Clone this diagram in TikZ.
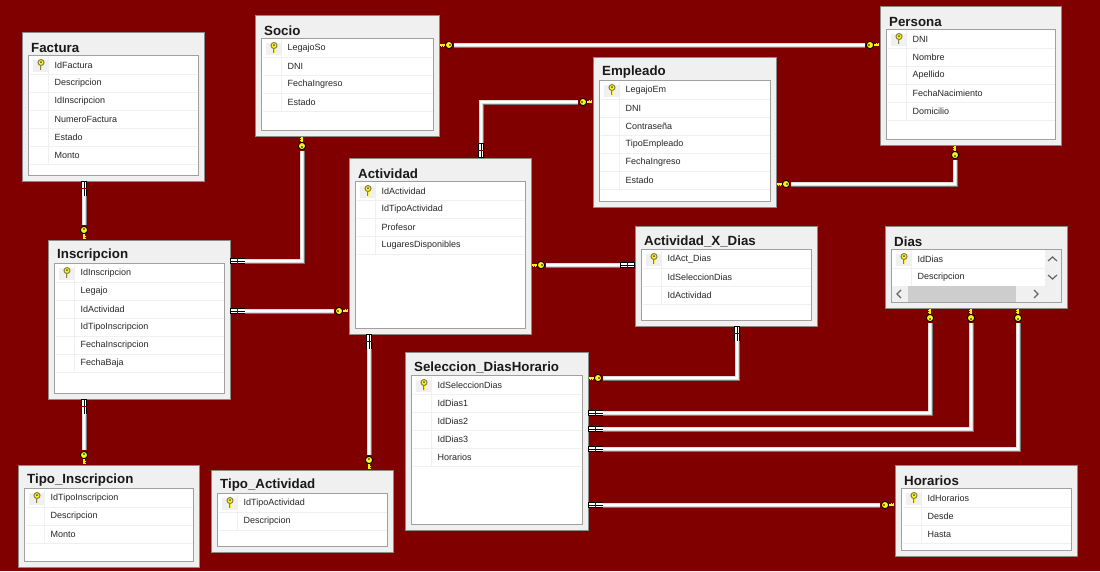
\documentclass[tikz,border=0pt]{standalone}
\usepackage{fontspec}
\setmainfont{Liberation Sans}
\usetikzlibrary{positioning}

\definecolor{diagrambg}{HTML}{800000}
\definecolor{boxgray}{HTML}{F0F0F0}
\definecolor{edgegray}{HTML}{8A8A8A}
\definecolor{framegray}{HTML}{A0A0A0}
\definecolor{tubegray}{HTML}{787878}
\definecolor{tubelight}{HTML}{DCDCDC}
\definecolor{rowgray}{HTML}{F0F0F0}
\definecolor{keyyellow}{HTML}{FFF21A}
\definecolor{thumbgray}{HTML}{CDCDCD}

\tikzset{
  tablebox/.style={draw=edgegray,fill=boxgray,line width=1pt,inner sep=0pt,outer sep=0pt,anchor=north west},
  gridbox/.style={draw=framegray,fill=white,line width=1pt,inner sep=0pt,outer sep=0pt,anchor=north west},
  tabletitle/.style={anchor=west,inner sep=0pt,font=\fontsize{13.3}{14}\selectfont\bfseries,text=black!90},
  fieldtext/.style={anchor=west,inner sep=0pt,font=\fontsize{9}{10}\selectfont,text=black!85},
  rowline/.style={draw=rowgray,line width=1pt},
  relation/.style={draw=white,line width=1.6pt,shorten <=15pt,shorten >=15pt,
    preaction={draw=tubegray,line width=5pt},
    preaction={draw=tubelight,line width=3.4pt}},
  chevron/.style={draw=black!60,line width=1.2pt},
  keyend/.pic={
    \draw[keyyellow,line width=1.4pt] (1,0) -- (8,0);
    \draw[keyyellow,line width=1pt] (2,0) -- (2,2.4) (4,0) -- (4,2.4);
    \filldraw[draw=black,fill=keyyellow,line width=0.9pt] (10,0) circle (3.6pt);
    \fill[black] (11,0) circle (0.9pt);
  },
  barend/.pic={
    \fill[black] (0.3,-3.2) rectangle (7.4,3.2);
    \fill[black] (7.8,-3.2) rectangle (15,3.2);
    \fill[white] (1,-2.4) rectangle (7,-0.5);
    \fill[white] (1,0.5) rectangle (7,2.4);
    \fill[white] (8.3,-2.4) rectangle (14.5,-0.5);
    \fill[white] (8.3,0.5) rectangle (14.5,2.4);
  },
  keyicon/.pic={
    \draw[black!55!yellow,line width=2.4pt] (0,0) -- (0,7);
    \draw[keyyellow,line width=1pt] (0,0) -- (0,7);
    \filldraw[draw=black!55!yellow,fill=keyyellow,line width=1pt] (0,0) circle (3pt);
    \fill[black!70] (0,-0.4) circle (1pt);
  }
}

%table: name, title, x0, y0, x1, y1, fields
\newcommand{\dbtable}[7]{
  \node[tablebox,minimum width={(#5-#3)*1pt},minimum height={(#6-#4)*1pt}] (#1) at (#3,#4) {};
  \node[tabletitle] (#1-title) at ([xshift=9pt,yshift=-15.5pt]#1.north west) {#2};
  \node[gridbox,minimum width={(#5-#3-12)*1pt},minimum height={(#6-#4-29.5)*1pt}] (#1-grid) at ([xshift=6.5pt,yshift=-23.5pt]#1.north west) {};
  \foreach \fieldname [count=\rownum] in {#7}{
    \node[fieldtext] (#1-field-\rownum) at ([xshift=26pt,yshift={(-10-18*(\rownum-1))*1pt}]#1-grid.north west) {\fieldname};
    \draw[rowline] ([xshift=1pt,yshift={(-19-18*(\rownum-1))*1pt}]#1-grid.north west) -- ([xshift=-1pt,yshift={(-19-18*(\rownum-1))*1pt}]#1-grid.north east);
    \draw[rowline] ([xshift=20pt,yshift={(-1-18*(\rownum-1))*1pt}]#1-grid.north west) -- ++(0,18);
  }
  \fill[boxgray] ([xshift=4pt,yshift=-4pt]#1-grid.north west) rectangle ++(15,12);
  \pic at ([xshift=12.5pt,yshift=-7pt]#1-grid.north west) {keyicon};
}

\begin{document}
\begin{tikzpicture}[x=1pt,y=-1pt]
\useasboundingbox (0,0) rectangle (1100,571);
\fill[diagrambg] (0,0) rectangle (1100,571);

%tables
\dbtable{factura}{Factura}{22}{32}{204}{181}{IdFactura,Descripcion,IdInscripcion,NumeroFactura,Estado,Monto}
\dbtable{socio}{Socio}{255}{15}{439}{136}{LegajoSo,DNI,FechaIngreso,Estado}
\dbtable{persona}{Persona}{880}{6}{1061}{145}{DNI,Nombre,Apellido,FechaNacimiento,Domicilio}
\dbtable{empleado}{Empleado}{593}{57}{776}{207}{LegajoEm,DNI,Contraseña,TipoEmpleado,FechaIngreso,Estado}
\dbtable{actividad}{Actividad}{349}{158}{531}{334}{IdActividad,IdTipoActividad,Profesor,LugaresDisponibles}
\dbtable{actdias}{Actividad\_X\_Dias}{635}{226}{817}{326}{IdAct\_Dias,IdSeleccionDias,IdActividad}
\dbtable{dias}{Dias}{885}{226}{1067}{308}{IdDias,Descripcion}
\dbtable{inscripcion}{Inscripcion}{48}{240}{230}{399}{IdInscripcion,Legajo,IdActividad,IdTipoInscripcion,FechaInscripcion,FechaBaja}
\dbtable{seleccion}{Seleccion\_DiasHorario}{405}{352}{588}{530}{IdSeleccionDias,IdDias1,IdDias2,IdDias3,Horarios}
\dbtable{tipoinsc}{Tipo\_Inscripcion}{18}{465}{199}{567}{IdTipoInscripcion,Descripcion,Monto}
\dbtable{tipoact}{Tipo\_Actividad}{211}{470}{393}{552}{IdTipoActividad,Descripcion}
\dbtable{horarios}{Horarios}{895}{465}{1077}{556}{IdHorarios,Desde,Hasta}

%scrollbars of dias
\fill[boxgray] (1045,250) rectangle (1061,301.5);
\fill[boxgray] (892,286) rectangle (1061,301.5);
\fill[thumbgray] (908,286) rectangle (1016,301.5);
\draw[chevron] (1048,261) -- (1052.5,257) -- (1057,261);
\draw[chevron] (1048,275) -- (1052.5,279) -- (1057,275);
\draw[chevron] (901,290) -- (897,294) -- (901,298);
\draw[chevron] (1034,290) -- (1038,294) -- (1034,298);

%relations
\draw[relation] (factura.south -| 84,0) -- (inscripcion.north -| 84,0);
\draw[relation] (inscripcion.east |- 0,261) -- (302,261) -- (socio.south -| 302,0);
\draw[relation] (inscripcion.east |- 0,311) -- (actividad.west |- 0,311);
\draw[relation] (inscripcion.south -| 84,0) -- (tipoinsc.north -| 84,0);
\draw[relation] (actividad.south -| 369,0) -- (tipoact.north -| 369,0);
\draw[relation] (socio.east |- 0,45) -- (persona.west |- 0,45);
\draw[relation] (actividad.north -| 481,0) -- (481,102) -- (empleado.west |- 0,102);
\draw[relation] (empleado.east |- 0,184) -- (955,184) -- (persona.south -| 955,0);
\draw[relation] (actividad.east |- 0,265) -- (actdias.west |- 0,265);
\draw[relation] (actdias.south -| 737,0) -- (737,378) -- (seleccion.east |- 0,378);
\draw[relation] (seleccion.east |- 0,413) -- (930,413) -- (dias.south -| 930,0);
\draw[relation] (seleccion.east |- 0,429) -- (971,429) -- (dias.south -| 971,0);
\draw[relation] (seleccion.east |- 0,449) -- (1018,449) -- (dias.south -| 1018,0);
\draw[relation] (seleccion.east |- 0,505) -- (horarios.west |- 0,505);

%key ends
\pic[rotate=90] at (inscripcion.north -| 84,0) {keyend};
\pic[rotate=-90] at (socio.south -| 302,0) {keyend};
\pic[rotate=180] at (actividad.west |- 0,311) {keyend};
\pic[rotate=90] at (tipoinsc.north -| 84,0) {keyend};
\pic[rotate=90] at (tipoact.north -| 369,0) {keyend};
\pic at (socio.east |- 0,45) {keyend};
\pic[rotate=180] at (persona.west |- 0,45) {keyend};
\pic[rotate=180] at (empleado.west |- 0,102) {keyend};
\pic at (empleado.east |- 0,184) {keyend};
\pic[rotate=-90] at (persona.south -| 955,0) {keyend};
\pic at (actividad.east |- 0,265) {keyend};
\pic at (seleccion.east |- 0,378) {keyend};
\pic[rotate=-90] at (dias.south -| 930,0) {keyend};
\pic[rotate=-90] at (dias.south -| 971,0) {keyend};
\pic[rotate=-90] at (dias.south -| 1018,0) {keyend};
\pic[rotate=180] at (horarios.west |- 0,505) {keyend};

%bar ends
\pic[rotate=-90] at (factura.south -| 84,0) {barend};
\pic at (inscripcion.east |- 0,261) {barend};
\pic at (inscripcion.east |- 0,311) {barend};
\pic[rotate=-90] at (inscripcion.south -| 84,0) {barend};
\pic[rotate=-90] at (actividad.south -| 369,0) {barend};
\pic[rotate=90] at (actividad.north -| 481,0) {barend};
\pic[rotate=180] at (actdias.west |- 0,265) {barend};
\pic[rotate=-90] at (actdias.south -| 737,0) {barend};
\pic at (seleccion.east |- 0,413) {barend};
\pic at (seleccion.east |- 0,429) {barend};
\pic at (seleccion.east |- 0,449) {barend};
\pic at (seleccion.east |- 0,505) {barend};
\end{tikzpicture}
\end{document}
